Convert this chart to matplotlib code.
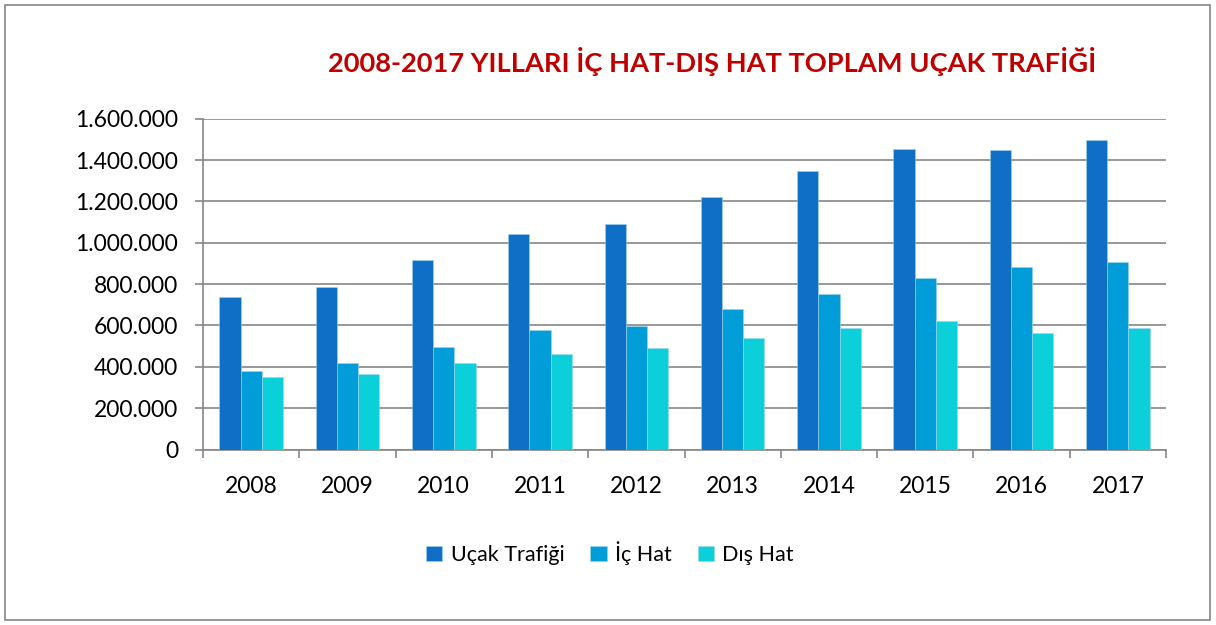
"""
Uçak trafiği 2008-2017, grouped bars
"""

import numpy as np
import matplotlib
matplotlib.use("Agg")
import matplotlib.pyplot as plt
from matplotlib.ticker import FuncFormatter, FixedLocator
from matplotlib.patches import Rectangle


years = ["2008", "2009", "2010", "2011", "2012", "2013", "2014", "2015", "2016", "2017"]
ucak_trafigi = [739000, 785000, 917000, 1040000, 1090000, 1222000, 1345000, 1454000, 1451000, 1499000]
ic_hat = [381000, 417000, 495000, 578000, 598000, 681000, 752000, 830000, 884000, 906000]
dis_hat = [352000, 366000, 418000, 460000, 489000, 539000, 589000, 621000, 563000, 587000]

series_names = ["Uçak Trafiği", "İç Hat", "Dış Hat"]
colors = ["#0F6FC6", "#009DD9", "#0BD0D9"]

plt.rcParams['font.family'] = ['Lato', 'DejaVu Sans']

fig = plt.figure(figsize=(12.16, 6.25), dpi=100)
ax = fig.add_axes([203/1216, 1 - 449.5/625, (1166-203)/1216, (449.5-118.7)/625])

# outer frame
fig.patches.append(Rectangle((5/1216, 5/625), 1205/1216, 615/625, transform=fig.transFigure,
                             fill=False, edgecolor="#868686", linewidth=1.2))

x = np.arange(len(years))
w = 0.22
for i, (vals, name, c) in enumerate(zip([ucak_trafigi, ic_hat, dis_hat], series_names, colors)):
    ax.bar(x + (i - 1) * w, vals, w, color=c, label=name, edgecolor="#9fd3f0", linewidth=0.4, zorder=3)

ax.set_xlim(-0.5, len(years) - 0.5)
ax.set_ylim(0, 1600000)
ax.set_yticks(np.arange(0, 1600001, 200000))
ax.yaxis.set_major_formatter(FuncFormatter(lambda v, pos: "0" if v == 0 else f"{int(v):,}".replace(",", ".")))
ax.grid(axis='y', color="#868686", linewidth=1.2, zorder=0)

ax.set_xticks(x)
ax.set_xticklabels(years)
ax.xaxis.set_minor_locator(FixedLocator(np.arange(-0.5, len(years), 1)))
ax.tick_params(axis='x', which='major', length=0, pad=19, labelsize=16.5)
ax.tick_params(axis='x', which='minor', length=6, width=1.2, color="#868686", direction='out')
ax.tick_params(axis='y', length=6, width=1.2, color="#868686", labelsize=16.5, pad=12)

for s in ["top", "right"]:
    ax.spines[s].set_visible(False)
for s in ["left", "bottom"]:
    ax.spines[s].set_color("#868686")
    ax.spines[s].set_linewidth(1.2)

fig.text(712/1216, 1 - 62/625, "2008-2017 YILLARI İÇ HAT-DIŞ HAT TOPLAM UÇAK TRAFİĞİ",
         ha='center', va='center', fontsize=19.6, fontweight='bold', color="#C00000")

fig.legend(loc='center', bbox_to_anchor=(610/1216, 1 - 553/625), ncol=3, frameon=False,
           fontsize=15.5, handlelength=0.75, handleheight=0.75, handletextpad=0.4, columnspacing=1.2)

fig.savefig("out.png", dpi=100)
